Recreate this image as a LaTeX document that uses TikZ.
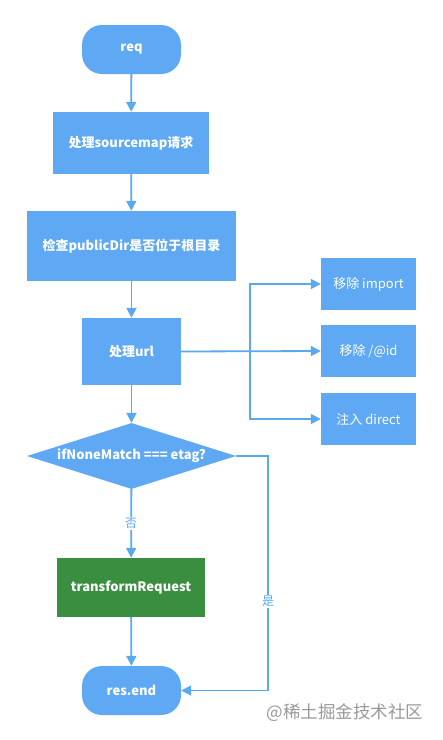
\documentclass[tikz,border=0pt]{standalone}
\usepackage{fontspec}
\setmainfont{Noto Sans CJK SC}
\usepackage{tikz}
\usetikzlibrary{arrows.meta,shapes.geometric}
\definecolor{flowblue}{HTML}{5EA8F4}
\definecolor{flowline}{HTML}{5AA8F0}
\definecolor{flowgreen}{HTML}{3A8E40}

\begin{document}
\begin{tikzpicture}[x=1pt,y=-1pt,
  base/.style={fill=flowblue,text=white,font=\fontsize{13}{15}\selectfont\bfseries,inner sep=0pt},
  term/.style={base,rounded corners=20pt,minimum width=99pt,minimum height=49pt},
  proc/.style={base,minimum height=62pt},
  side/.style={fill=flowblue,text=white,font=\fontsize{13}{15}\selectfont,minimum width=95pt,minimum height=52pt},
  cond/.style={base,diamond,shape aspect=3.17,minimum width=209pt,minimum height=66pt},
  arr/.style={draw=flowline,line width=1.8pt,-{Triangle[width=10pt,length=10pt]}},
  lbl/.style={fill=white,text=flowline,font=\fontsize{12}{14}\selectfont,inner sep=1pt}]
\useasboundingbox (0,0) rectangle (443,740);
\node[term] (req) at (131.5,49.5) {req};
\node[proc,minimum width=156pt] (smap) at (131,143) {处理sourcemap请求};
\node[proc,minimum width=209pt,minimum height=70pt] (pub) at (131.5,246) {检查publicDir是否位于根目录};
\node[proc,minimum width=99pt,minimum height=67pt] (url) at (131.5,351.5) {处理url};
\node[side] (imp) at (368.5,284) {移除 import};
\node[side] (atid) at (368.5,351) {移除 /@id};
\node[side] (dir) at (368.5,419) {注入 direct};
\node[cond] (etag) at (131.5,456) {ifNoneMatch === etag?};
\node[proc,fill=flowgreen,minimum width=148pt,minimum height=59pt] (trans) at (131,587.5) {transformRequest};
\node[term] (end) at (131.5,690.5) {res.end};
\node[text=gray!80,font=\fontsize{17.5}{20}\selectfont] (mark) at (345,713) {@稀土掘金技术社区};
\coordinate (fork) at (250,351);
\coordinate (turn) at (268,690.5);
\draw[arr] (req) -- (smap);
\draw[arr] (smap) -- (pub);
\draw[arr] (pub) -- (url);
\draw[arr] (url) -- (etag);
\draw[arr] (url.east) -- (atid.west);
\draw[arr] (fork) |- (imp.west);
\draw[arr] (fork) |- (dir.west);
\draw[arr] (etag) -- node[lbl] {否} (trans);
\draw[arr] (trans) -- (end);
\draw[arr] (etag.east) -| node[lbl,pos=0.81] {是} (turn) -- (end.east);
\end{tikzpicture}
\end{document}
